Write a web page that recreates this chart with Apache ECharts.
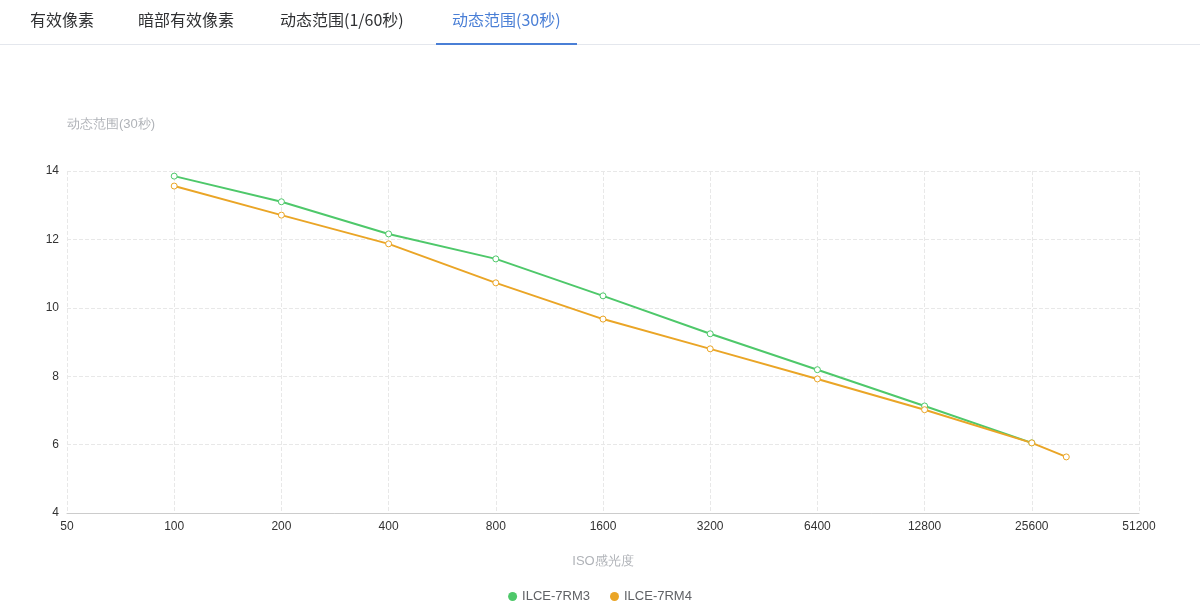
<!DOCTYPE html>
<html>
<head>
<meta charset="utf-8">
<script src="https://cdn.jsdelivr.net/npm/echarts@6/dist/echarts.min.js"></script>
<style>
  html, body { margin: 0; padding: 0; background: #fff; font-family: "Noto Sans CJK SC", "Noto Sans", sans-serif; }
  #tabs { position: absolute; left: 0; top: 0; width: 1200px; height: 44px; border-bottom: 1px solid #e4e7ed; z-index: 2; }
  #tabs span { position: absolute; top: 0; height: 44px; line-height: 38px; font-size: 16px; color: #303133; }
  #tabs span.on { color: #4a7fd6; border-bottom: 2px solid #4a7fd6; height: 43px; }
  #chart { position: absolute; left: 0; top: 0; width: 1200px; height: 614px; }
</style>
</head>
<body>
<div id="chart"></div>
<div id="tabs">
  <span style="left:30px">有效像素</span>
  <span style="left:138px">暗部有效像素</span>
  <span style="left:280px">动态范围(1/60秒)</span>
  <span class="on" style="left:436px;padding:0 16px">动态范围(30秒)</span>
</div>
<script>
var seriesNames = ['ILCE-7RM3', 'ILCE-7RM4'];
var isoBase = 50;
var isoM3 = [100, 200, 400, 800, 1600, 3200, 6400, 12800, 25600];
var drM3 = [13.85, 13.1, 12.16, 11.43, 10.35, 9.24, 8.19, 7.13, 6.05];
var isoM4 = [100, 200, 400, 800, 1600, 3200, 6400, 12800, 25600, 32000];
var drM4 = [13.56, 12.71, 11.87, 10.73, 9.67, 8.8, 7.92, 7.02, 6.05, 5.64];
var colors = ['#4ec86a', '#eaa526'];

// x axis is log2 of ISO relative to 50 (stops)
function pairs(xs, ys) {
  return xs.map(function (x, i) { return [Math.log2(x / isoBase), ys[i]]; });
}

var chart = echarts.init(document.getElementById('chart'));
var dashed = { show: true, lineStyle: { type: 'dashed', color: '#e8e8e8' } };
function mk(i, data) {
  return {
    name: seriesNames[i], type: 'line', data: data, symbol: 'circle', symbolSize: 6,
    itemStyle: { color: '#fff', borderColor: colors[i], borderWidth: 1 },
    lineStyle: { color: colors[i], width: 2 }
  };
}
chart.setOption({
  grid: { left: 67, right: 61, top: 171, bottom: 101 },
  legend: {
    bottom: 6, icon: 'circle', itemWidth: 9, itemHeight: 9, itemGap: 20,
    textStyle: { color: '#606266', fontSize: 13 },
    data: [
      { name: seriesNames[0], itemStyle: { color: colors[0], borderWidth: 0 } },
      { name: seriesNames[1], itemStyle: { color: colors[1], borderWidth: 0 } }
    ]
  },
  xAxis: {
    type: 'value', min: 0, max: 10, interval: 1,
    name: 'ISO感光度', nameLocation: 'middle', nameGap: 42,
    nameTextStyle: { color: '#b0b3b8', fontSize: 13 },
    axisLine: { lineStyle: { color: '#ccc' } },
    axisTick: { show: false },
    axisLabel: { color: '#333', fontSize: 12, formatter: function (v) { return String(Math.round(isoBase * Math.pow(2, v))); } },
    splitLine: dashed
  },
  yAxis: {
    type: 'value', min: 4, max: 14, interval: 2,
    name: '动态范围(30秒)', nameGap: 40,
    nameTextStyle: { color: '#b0b3b8', fontSize: 13, align: 'left' },
    axisLine: { show: false }, axisTick: { show: false },
    axisLabel: { color: '#333', fontSize: 12 },
    splitLine: dashed
  },
  series: [mk(0, pairs(isoM3, drM3)), mk(1, pairs(isoM4, drM4))]
});
</script>
</body>
</html>
